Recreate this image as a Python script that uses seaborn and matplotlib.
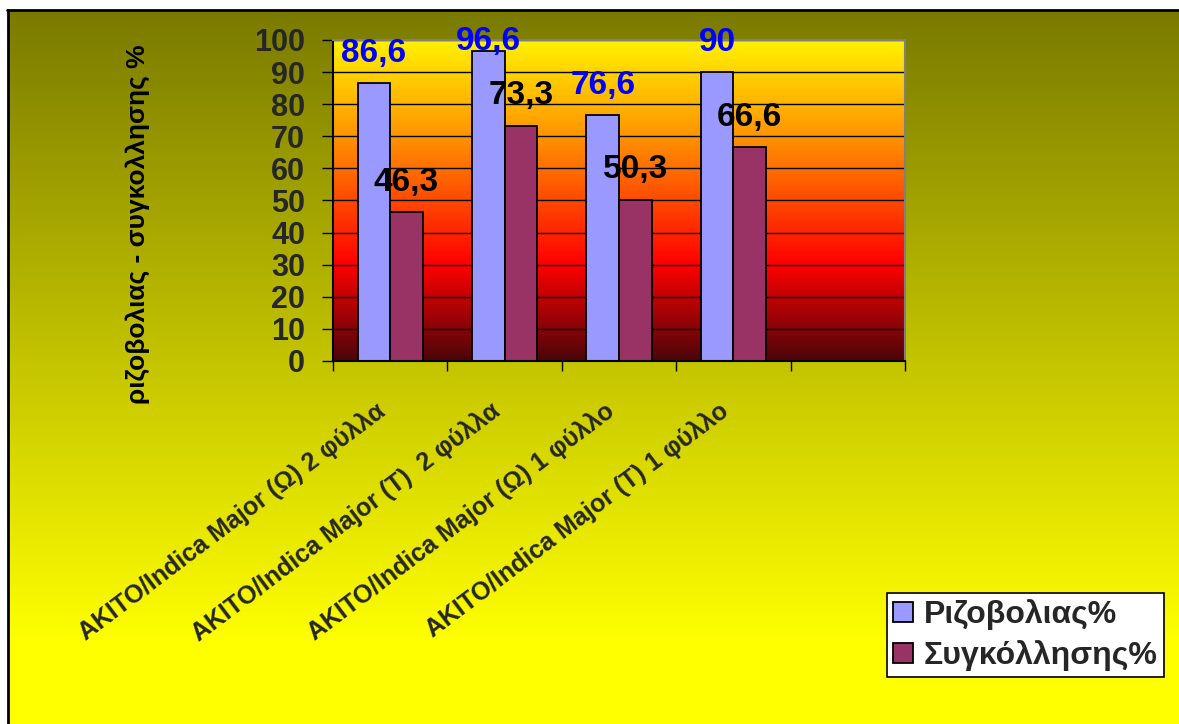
import numpy as np
import pandas as pd
import matplotlib
matplotlib.use("Agg")
import matplotlib.pyplot as plt
from matplotlib.colors import LinearSegmentedColormap
from matplotlib.lines import Line2D
from matplotlib.transforms import ScaledTranslation
import seaborn as sns

# ---- data -------------------------------------------------------------
categories = [
    "AKITO/Indica Major (Ω) 2 φύλλα",
    "AKITO/Indica Major (Τ)  2 φύλλα",
    "AKITO/Indica Major (Ω) 1 φύλλο",
    "AKITO/Indica Major (Τ) 1 φύλλο",
]
series_names = ["Ριζοβολιας%", "Συγκόλλησης%"]
rooting = [86.6, 96.6, 76.6, 90]
grafting = [46.3, 73.3, 50.3, 66.6]
y_ticks = [0, 10, 20, 30, 40, 50, 60, 70, 80, 90, 100]
y_label = "ριζοβολιας - συγκολλησης %"

bar_colors = ["#9999ff", "#993366"]
value_colors = ["#0000ff", "#000000"]

df = pd.DataFrame({
    "category": categories * 2,
    "series": [series_names[0]] * len(categories) + [series_names[1]] * len(categories),
    "value": rooting + grafting,
})

# ---- figure -----------------------------------------------------------
W, H = 1179, 724
sns.set_theme(style="white")
plt.rcParams["font.family"] = ["Liberation Sans", "DejaVu Sans"]
plt.rcParams["font.weight"] = "bold"

fig = plt.figure(figsize=(W / 100, H / 100), dpi=100, facecolor="white")

# outer background: olive at the top fading to yellow
bg = fig.add_axes([8 / W, 0, 1 - 8 / W, 1 - 11 / H], zorder=-10)
rows = np.arange(11, H)
t = np.clip((rows - 11) / (640 - 11), 0, 1)[:, None, None]
olive = np.array([122, 122, 0]) / 255
yellow = np.array([255, 255, 0]) / 255
bg.imshow(olive + t * (yellow - olive), extent=[0, 1, 0, 1], aspect="auto",
          interpolation="bilinear")
bg.axis("off")
fig.add_artist(Line2D([8 / W, 8 / W], [0, 1 - 10 / H], color="black", lw=2,
                      transform=fig.transFigure))
fig.add_artist(Line2D([7 / W, 1], [1 - 10 / H, 1 - 10 / H], color="black", lw=2,
                      transform=fig.transFigure))

# plot area: yellow -> red -> dark red
rect = [333 / W, 1 - 361 / H, 572 / W, 321 / H]
pax = fig.add_axes(rect, zorder=0)
cmap = LinearSegmentedColormap.from_list(
    "heat", [(0.0, (0.30, 0.02, 0.04)), (0.30, (1.0, 0.0, 0.0)),
             (0.70, (1.0, 0.58, 0.0)), (1.0, (1.0, 0.95, 0.0))])
pax.imshow(np.linspace(1, 0, 400)[:, None], cmap=cmap, extent=[0, 1, 0, 1],
           aspect="auto", interpolation="bilinear")
pax.axis("off")

ax = fig.add_axes(rect, zorder=1)
ax.patch.set_visible(False)

sns.barplot(data=df, x="category", y="value", hue="series",
            palette=bar_colors, saturation=1, width=0.57,
            edgecolor="black", linewidth=1.3, ax=ax)

ax.set_xlim(-0.5, 4.5)
ax.set_ylim(0, 100)
ax.set_yticks(y_ticks)
ax.set_yticklabels([str(v) for v in y_ticks], fontsize=22, fontweight="bold")
ax.yaxis.grid(True, color="black", lw=1)
ax.set_axisbelow(True)
ax.set_xlabel("")
ax.set_ylabel("")

# slanted category labels on the major ticks, boundary marks on minor ticks
ax.set_xticks(range(len(categories)))
ax.set_xticklabels(categories, rotation=37, ha="right", va="top",
                   rotation_mode="anchor", fontsize=18, fontweight="bold")
ax.tick_params(axis="x", which="major", length=0, pad=27)
shift = ScaledTranslation(-0.15, 0, fig.dpi_scale_trans)
for lab in ax.get_xticklabels():
    lab.set_transform(lab.get_transform() + shift)
ax.set_xticks(np.arange(-0.5, 5.0, 1.0), minor=True)
ax.tick_params(axis="x", which="minor", length=7, width=1, color="black",
               direction="out", bottom=True)
ax.tick_params(axis="y", length=8, width=1, color="black", direction="out",
               pad=12, left=True)

for side in ["left", "bottom"]:
    ax.spines[side].set_color("black")
    ax.spines[side].set_linewidth(1.5)
for side in ["top", "right"]:
    ax.spines[side].set_color("#808080")
    ax.spines[side].set_linewidth(1.5)

# value labels above the bars
for container, color in zip(ax.containers, value_colors):
    for bar in container:
        v = bar.get_height()
        txt = f"{v:g}".replace(".", ",")
        ax.text(bar.get_x() + bar.get_width() / 2, min(v + 9.3, 99.4), txt,
                ha="center", va="center", color=color, fontsize=24,
                fontweight="bold", clip_on=False, zorder=5)

fig.text(138 / W, 1 - 224 / H, y_label, rotation=90, ha="center", va="center",
         fontsize=19, fontweight="bold", color="black")

handles, _ = ax.get_legend_handles_labels()
if ax.get_legend() is not None:
    ax.get_legend().remove()
leg = fig.legend(handles, series_names, loc="upper left",
                 bbox_to_anchor=(887 / W, 1 - 593 / H), frameon=True,
                 fancybox=False, edgecolor="black", facecolor="white",
                 framealpha=1, fontsize=23, borderpad=0.2, labelspacing=0.3,
                 handlelength=0.6, handleheight=0.6, handletextpad=0.35,
                 borderaxespad=0)
leg.get_frame().set_linewidth(1.2)
for txt in leg.get_texts():
    txt.set_fontweight("bold")

fig.savefig("out.png", dpi=100)
